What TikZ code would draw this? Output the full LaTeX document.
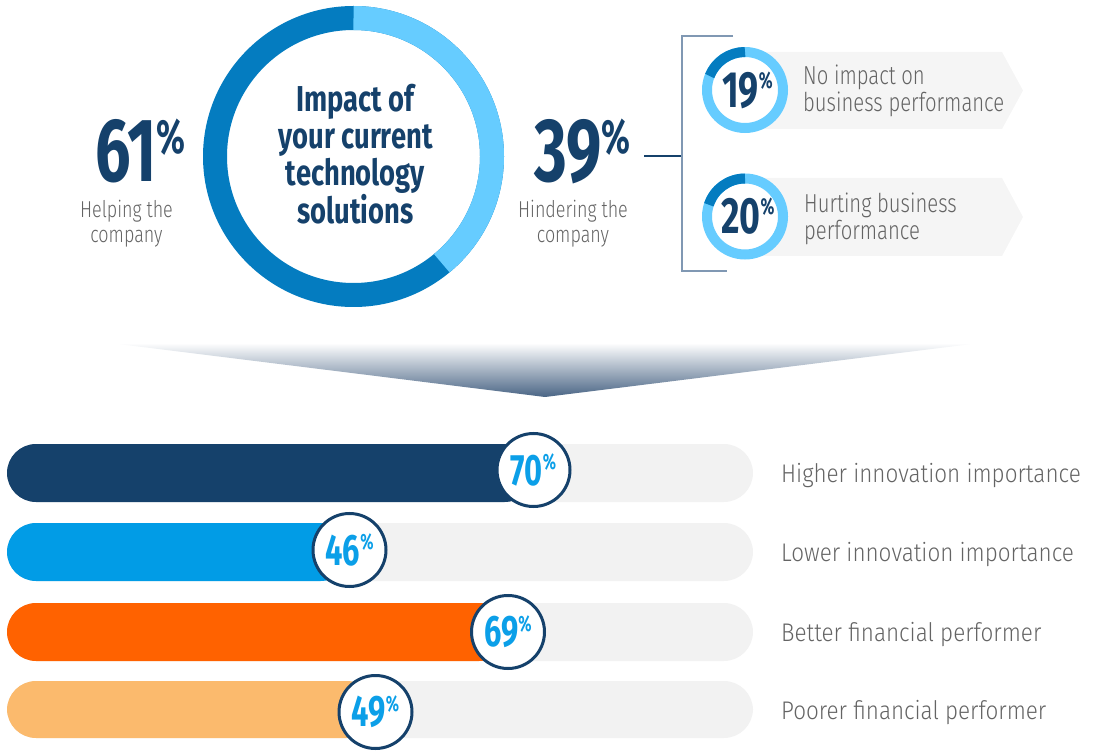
\documentclass[tikz,border=0pt]{standalone}
\usepackage{fontspec}
\usetikzlibrary{positioning}
\setmainfont{Fira Sans}
\newfontfamily\numfont{Fira Sans}[FakeStretch=0.70]
\newfontfamily\titlefont{Fira Sans}[FakeStretch=0.76]
\IfFontExistsTF{Fira Sans Light}{%
  \newfontfamily\lightfont{Fira Sans Light}[FakeStretch=0.88]%
  \newfontfamily\condlight{Fira Sans Light}[FakeStretch=0.78]%
}{%
  \newfontfamily\lightfont{Fira Sans}[FakeStretch=0.875]%
  \newfontfamily\condlight{Fira Sans}[FakeStretch=0.76]%
}

\definecolor{navy}{HTML}{15416B}
\definecolor{dkblue}{HTML}{047CC0}
\definecolor{ltblue}{HTML}{66CCFF}
\definecolor{barblue}{HTML}{019CE6}
\definecolor{barorange}{HTML}{FF6200}
\definecolor{barpeach}{HTML}{FBBA6D}
\definecolor{barbg}{HTML}{F2F2F2}
\definecolor{arrowbg}{HTML}{F5F5F5}
\definecolor{txtgray}{HTML}{646464}
\definecolor{pctblue}{HTML}{0B9FE8}
\definecolor{tipblue}{HTML}{4A6585}
\definecolor{brkgray}{HTML}{8098B3}

% number with a raised percent sign: {number}{size}{size of %}
\newcommand\pct[3]{{\fontsize{#2}{#2}\selectfont #1}\raisebox{\dimexpr(#2pt-#3pt)*689/1000\relax}{\fontsize{#3}{#3}\selectfont\%}}

\tikzset{
  bignum/.style={inner sep=0, text=navy, font=\numfont\bfseries},
  lbl/.style={inner sep=0, text=txtgray, align=center, font=\condlight\fontsize{23}{25}\selectfont},
  sidelbl/.style={inner sep=0, text=txtgray, align=left, font=\condlight\fontsize{26}{27}\selectfont},
  barlbl/.style={inner sep=0, text=txtgray, font=\lightfont\fontsize{25.5}{26}\selectfont},
  pctdot/.style={circle, draw=navy, line width=3pt, fill=white, minimum size=73pt, inner sep=0, text=pctblue, font=\numfont\bfseries},
}

\begin{document}
\begin{tikzpicture}[x=1pt, y=-1pt]
            \useasboundingbox (0,0) rectangle (1093,751);

            \coordinate (ring) at (353.5,156.5);
            \coordinate (noimp) at (745,90);
            \coordinate (hurt) at (745,216.5);
            \coordinate (link) at (644,156);
            \coordinate (brk) at (682,156);
            \coordinate (brktop) at (733,36);
            \coordinate (brkbot) at (727,271);

            % main donut
            \draw[line width=24pt, dkblue] (ring) circle[radius=138.5];
            \draw[line width=24pt, ltblue] (ring) ++(-90:138.5) arc[start angle=-90, end angle=50.4, radius=138.5];

            \node[inner sep=0, text=navy, align=center, font=\titlefont\bfseries\fontsize{36}{37}\selectfont, anchor=base] (title) at (355.5,224) {Impact of\\your current\\technology\\solutions};

            \node[bignum, anchor=base west] (help) at (95,182) {\pct{61}{90}{48}};
            \node[lbl, anchor=base] (helptxt) at (126.5,243) {Helping the\\company};

            \node[bignum, anchor=base west] (hind) at (534,182) {\pct{39}{90}{48}};
            \node[lbl, anchor=base] (hindtxt) at (573,243) {Hindering the\\company};

            % bracket
            \draw[navy, line width=1.2pt] (link) -- (brk);
            \draw[brkgray, line width=1.5pt] (brktop) -| (brk) |- (brkbot);

            % grey arrows behind the small donuts
            \fill[arrowbg] (745,52) -- (1002,52) -- (1023,90.5) -- (1002,129) -- (745,129) -- cycle;
            \fill[arrowbg] (745,178) -- (1002,178) -- (1023,217) -- (1002,256) -- (745,256) -- cycle;

            \draw[line width=10pt, ltblue, fill=white] (noimp) circle[radius=38];
            \draw[line width=10pt, dkblue] (noimp) ++(-90:38) arc[start angle=-90, end angle=-158.4, radius=38];
            \draw[line width=10pt, ltblue, fill=white] (hurt) circle[radius=38];
            \draw[line width=10pt, dkblue] (hurt) ++(-90:38) arc[start angle=-90, end angle=-162, radius=38];

            \node[bignum, anchor=base west] (noimpnum) at (722,108) {\pct{19}{51}{23}};
            \node[bignum, anchor=base west] (hurtnum) at (721,234) {\pct{20}{51}{23}};

            \node[sidelbl, anchor=base west] (noimptxt) at (803,112) {No impact on\\business performance};
            \node[sidelbl, anchor=base west] (hurttxt) at (804,240) {Hurting business\\performance};

            % arrow down
            \shade[top color=white, bottom color=tipblue] (110,343) -- (980,343) -- (545,397) -- cycle;

            % bars
            \fill[barbg, rounded corners=29pt] (7,444) rectangle (753,502);
            \fill[barbg, rounded corners=29pt] (7,523) rectangle (753,581);
            \fill[barbg, rounded corners=29pt] (7,603) rectangle (753,661);
            \fill[barbg, rounded corners=29pt] (7,681) rectangle (753,738);

            \fill[navy, rounded corners=29pt] (7,444) rectangle (533.5,502);
            \fill[barblue, rounded corners=29pt] (7,523) rectangle (349.5,581);
            \fill[barorange, rounded corners=29pt] (7,603) rectangle (508,661);
            \fill[barpeach, rounded corners=29pt] (7,681) rectangle (375.5,738);

            \node[pctdot] (hi) at (533.5,470) {\pct{70}{44}{22}};
            \node[pctdot] (lo) at (349.5,550) {\pct{46}{44}{22}};
            \node[pctdot] (better) at (508,632) {\pct{69}{44}{22}};
            \node[pctdot] (poorer) at (375.5,712) {\pct{49}{44}{22}};

            \node[barlbl, anchor=base west] (hitxt) at (781,482) {Higher innovation importance};
            \node[barlbl, anchor=base west] (lotxt) at (781,561) {Lower innovation importance};
            \node[barlbl, anchor=base west] (bettertxt) at (781,641) {Better financial performer};
            \node[barlbl, anchor=base west] (poorertxt) at (781,719) {Poorer financial performer};

\end{tikzpicture}
\end{document}
